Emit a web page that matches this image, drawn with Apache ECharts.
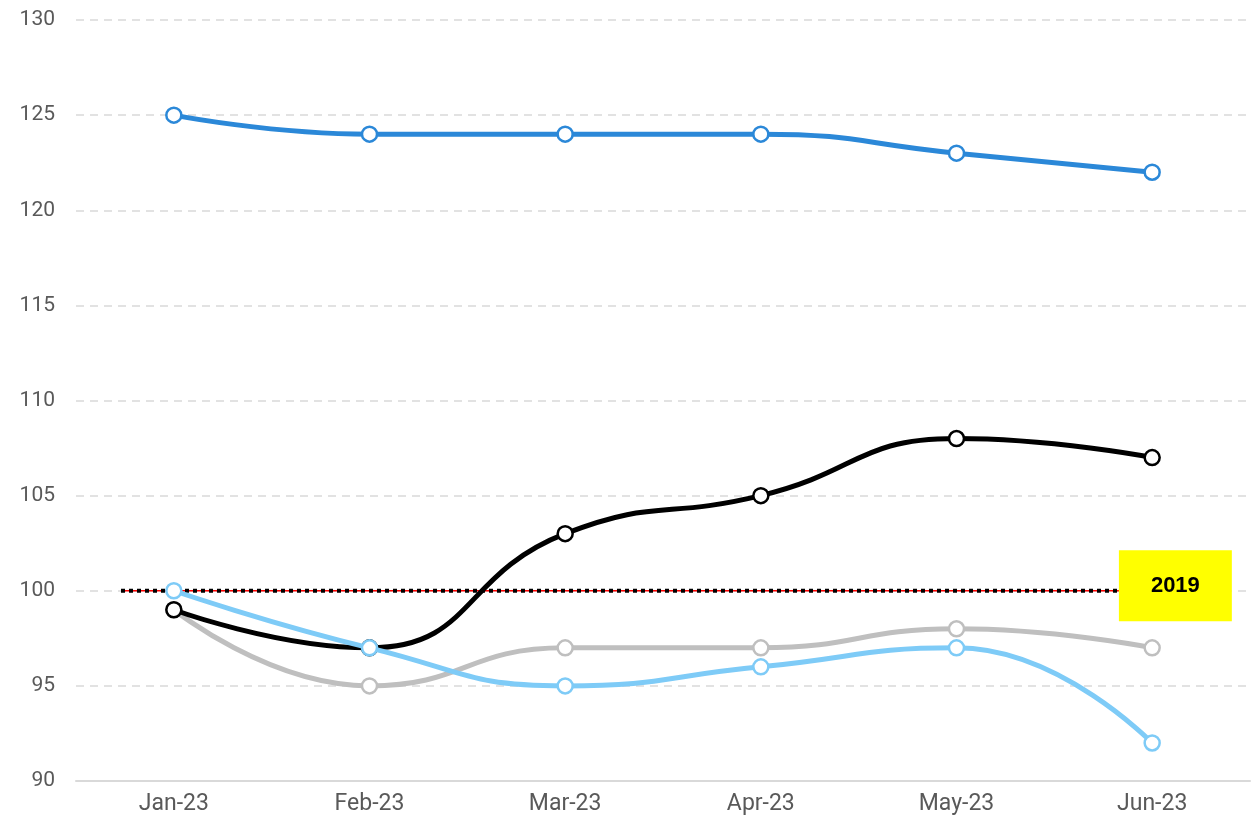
<!DOCTYPE html>
<html>
<head>
<meta charset="utf-8">
<script src="https://cdn.jsdelivr.net/npm/echarts@6/dist/echarts.min.js"></script>
<style>
  html, body { margin: 0; padding: 0; background: #fff; }
  #main { width: 1260px; height: 819px; }
</style>
</head>
<body>
<div id="main"></div>
<script>
// categories and values
const months = ['Jan-23', 'Feb-23', 'Mar-23', 'Apr-23', 'May-23', 'Jun-23'];
const darkBlue = [125, 124, 124, 124, 123, 122];
const black = [99, 97, 103, 105, 108, 107];
const grey = [99, 95, 97, 97, 98, 97];
const lightBlue = [100, 97, 95, 96, 97, 92];
// reference line (2019 level), x in category units
const refX = [-0.27, 4.83];
const refY = [100, 100];
const refLabel = '2019';

const myChart = echarts.init(document.getElementById('main'));

const mkLine = (name, data, color, z) => ({
  name: name,
  type: 'line',
  data: data,
  smooth: 0.5,
  z: z,
  symbol: 'circle',
  symbolSize: 15,
  itemStyle: { color: '#fff', borderColor: color, borderWidth: 2.5 },
  lineStyle: { color: color, width: 5 },
  emphasis: { disabled: true }
});

const option = {
  animation: false,
  grid: { left: 76, right: 10, top: 20, bottom: 38, containLabel: false },
  xAxis: [
    {
      type: 'category',
      data: months,
      boundaryGap: true,
      axisLine: { lineStyle: { color: '#d9d9d9', width: 2 } },
      axisTick: { show: false },
      axisLabel: { color: '#595959', fontSize: 23, margin: 12, fontFamily: 'Roboto' }
    },
    {
      type: 'value',
      min: -0.5,
      max: 5.5,
      show: false
    }
  ],
  yAxis: {
    type: 'value',
    min: 90,
    max: 130,
    interval: 5,
    axisLine: { show: false },
    axisTick: { show: false },
    axisLabel: { color: '#595959', fontSize: 21, margin: 21, fontFamily: 'Roboto' },
    splitLine: { lineStyle: { color: '#d9d9d9', type: [8, 6], width: 1.5 } }
  },
  series: [
    {
      name: 'ref-red',
      type: 'line',
      xAxisIndex: 1,
      data: refX.map((x, i) => [x, refY[i]]),
      symbol: 'none',
      z: 1,
      lineStyle: { color: '#ff0000', width: 1.5 },
      silent: true
    },
    {
      name: 'ref-dots',
      type: 'line',
      xAxisIndex: 1,
      data: refX.map((x, i) => [x, refY[i]]),
      symbol: 'none',
      z: 1,
      lineStyle: { color: '#000', width: 4, type: [4, 4] },
      silent: true,
      endLabel: {
        show: true,
        formatter: refLabel,
        color: '#000',
        fontWeight: 'bold',
        fontSize: 22,
        fontFamily: 'Liberation Sans',
        backgroundColor: '#ffff00',
        align: 'left',
        padding: [25, 32, 24, 32],
        distance: 0,
        offset: [0, -5]
      }
    },
    mkLine('Series 1', darkBlue, '#2b88d8', 3),
    mkLine('Series 3', grey, '#bfbfbf', 2),
    mkLine('Series 2', black, '#000000', 3),
    mkLine('Series 4', lightBlue, '#7ecbf7', 4)
  ]
};

myChart.setOption(option);
</script>
</body>
</html>
